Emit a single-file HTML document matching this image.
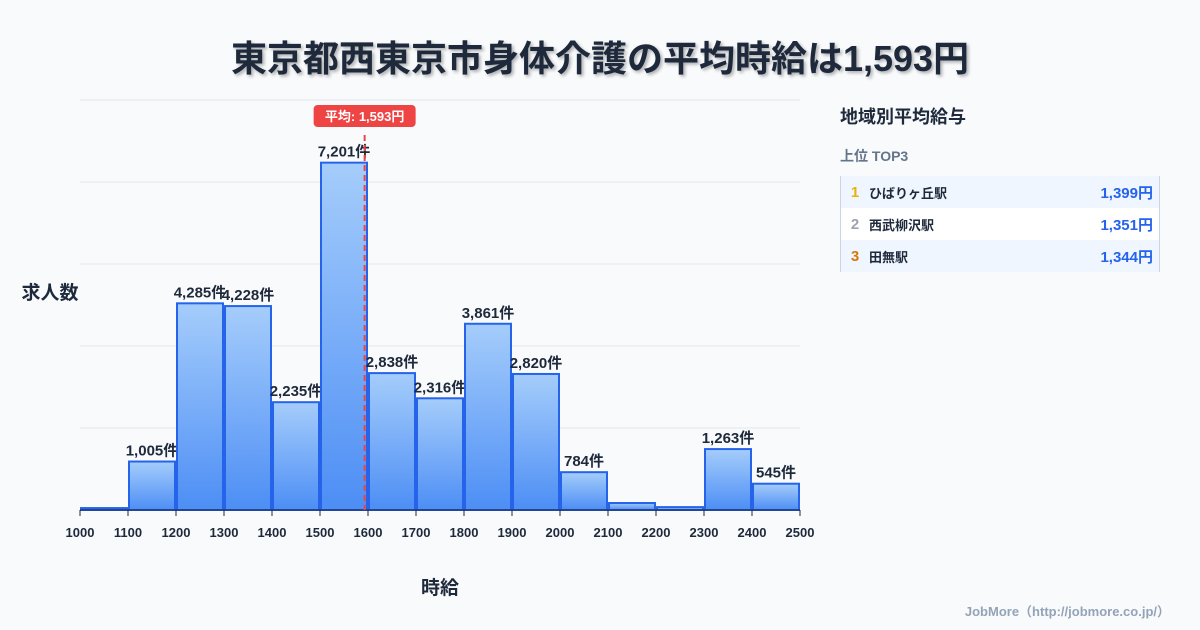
<!DOCTYPE html>
<html><head><meta charset="utf-8"><style>
body{margin:0;width:1200px;height:630px;background:#f8fafc;font-family:"Liberation Sans","Noto Sans CJK JP",sans-serif;overflow:hidden;position:relative}
#title{position:absolute;top:30px;left:0;width:1200px;text-align:center;font-size:36px;font-weight:bold;color:#1e293b;text-shadow:2px 2px 3px rgba(0,0,0,0.3)}
#side{position:absolute;left:840px;top:100px;width:320px}
.row{display:flex;align-items:center;height:32px;font-size:13px;font-weight:bold;color:#1e293b}
.rk{width:28px;text-align:center;font-size:15px}
.nm{flex:1}
.val{color:#2563eb;font-size:15px;padding-right:6px}
</style></head><body>
<div id="title">東京都西東京市身体介護の平均時給は1,593円</div>
<svg width="1200" height="630" style="position:absolute;left:0;top:0" id="chart">
<defs><linearGradient id="g" x1="0" y1="0" x2="0" y2="1"><stop offset="0" stop-color="#a5cdfb"/><stop offset="1" stop-color="#4d8ef5"/></linearGradient></defs>
<g id="grid"></g><g id="bars"></g><g id="ticks"></g>
<text x="50" y="299" font-size="19" font-weight="bold" fill="#1e293b" text-anchor="middle">求人数</text>
<text x="440" y="594" font-size="19" font-weight="bold" fill="#1e293b" text-anchor="middle">時給</text>
<text x="1170" y="616" font-size="13" font-weight="bold" fill="#94a3b8" text-anchor="end">JobMore（http://jobmore.co.jp/）</text>
</svg>
<div id="side">
<div style="font-size:18px;font-weight:bold;color:#1e293b;height:34px;line-height:34px">地域別平均給与</div>
<div style="font-size:14px;font-weight:bold;color:#64748b;margin-top:12px;height:28px">上位 TOP3</div>
<div style="border-left:1px solid #cbd5e1;border-right:1px solid #cbd5e1;margin-top:2px">
<div class="row" style="background:#eff6ff"><span class="rk" style="color:#eab308">1</span><span class="nm">ひばりヶ丘駅</span><span class="val">1,399円</span></div>
<div class="row" style="background:#fff"><span class="rk" style="color:#9ca3af">2</span><span class="nm">西武柳沢駅</span><span class="val">1,351円</span></div>
<div class="row" style="background:#eff6ff"><span class="rk" style="color:#d97706">3</span><span class="nm">田無駅</span><span class="val">1,344円</span></div>
</div></div>
<script>
const binStarts=[1000,1100,1200,1300,1400,1500,1600,1700,1800,1900,2000,2100,2200,2300,2400];
const counts=[40,1005,4285,4228,2235,7201,2838,2316,3861,2820,784,145,60,1263,545];
const showLabel=[false,true,true,true,true,true,true,true,true,true,true,false,false,true,true];
const xTicks=[1000,1100,1200,1300,1400,1500,1600,1700,1800,1900,2000,2100,2200,2300,2400,2500];
const avgWage=1593;
const yMax=8500, yStep=1700;
const NS="http://www.w3.org/2000/svg";
const X=v=>80+(v-1000)/1500*720;
const Y=v=>510-v/yMax*410;
function mk(t,a,p){const e=document.createElementNS(NS,t);for(const k in a)e.setAttribute(k,a[k]);p.appendChild(e);return e;}
const grid=document.getElementById('grid'),bars=document.getElementById('bars'),ticks=document.getElementById('ticks');
for(let v=yStep;v<=yMax;v+=yStep){const l=mk('line',{x1:80,x2:800,y1:Y(v),y2:Y(v),stroke:'#e2e8f0','stroke-width':1},grid);

}
binStarts.forEach((b,i)=>{const x0=X(b)+1,x1=X(b+100)-1,y=Y(counts[i]);
const r=mk('rect',{x:x0,y:y,width:x1-x0,height:510-y,fill:'url(#g)',stroke:'#2563eb','stroke-width':2},bars);


if(showLabel[i]){const t=mk('text',{x:(x0+x1)/2,y:y-6,'text-anchor':'middle','font-size':15,'font-weight':'bold',fill:'#1e293b'},bars);t.textContent=counts[i].toLocaleString('en-US')+'件';

}});
mk('line',{x1:80,x2:800,y1:510,y2:510,stroke:'#1e293b','stroke-width':1},ticks);
xTicks.forEach(v=>{mk('line',{x1:X(v),x2:X(v),y1:510,y2:516,stroke:'#1e293b'},ticks);
const t=mk('text',{x:X(v),y:537,'text-anchor':'middle','font-size':13,'font-weight':'bold',fill:'#1e293b'},ticks);t.textContent=v;

});
const ax=X(avgWage);
const al=mk('line',{x1:ax,x2:ax,y1:135,y2:510,stroke:'#ef4444','stroke-width':2,'stroke-dasharray':'6,4'},ticks);


const ab=mk('rect',{x:ax-51,y:105,width:102,height:22,rx:4,fill:'#ef4444'},ticks);


const at=mk('text',{x:ax,y:121,'text-anchor':'middle','font-size':13,'font-weight':'bold',fill:'#fff'},ticks);
at.textContent='平均: '+avgWage.toLocaleString('en-US')+'円';


</script>
</body></html>
